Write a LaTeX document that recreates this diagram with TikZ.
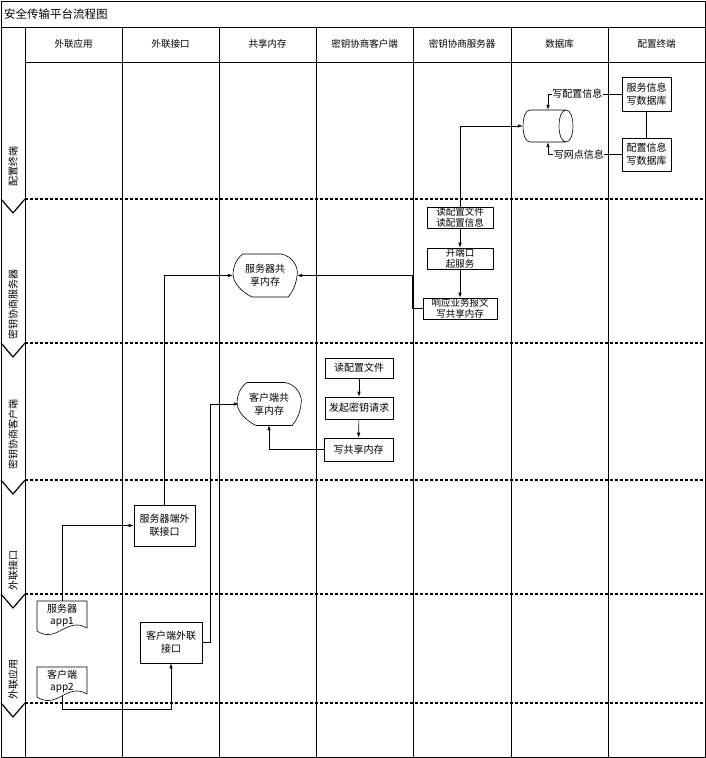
\documentclass[tikz,border=0pt]{standalone}
\usepackage{fontspec}
\setmainfont{Noto Sans CJK SC}
\usetikzlibrary{arrows.meta,calc,positioning}

\tikzset{
  colhead/.style={inner sep=0pt, font=\fontsize{9.5}{11}\selectfont},
  lanehead/.style={rotate=90, anchor=west, inner sep=0pt, font=\fontsize{10}{12}\selectfont},
  lane sep/.style={line width=1.5pt, dash pattern=on 3pt off 2pt},
  proc/.style={draw, line width=0.6pt, align=center, inner sep=1pt, font=\fontsize{10}{13}\selectfont},
  tight proc/.style={proc, inner sep=0pt, font=\fontsize{9.5}{10.5}\selectfont},
  store/.style={align=center, inner sep=0pt, font=\fontsize{10}{13}\selectfont},
  flow/.style={line width=0.6pt, -{Latex[length=5pt,width=3.5pt]}},
  flow label/.style={fill=white, inner sep=0.5pt, font=\fontsize{10}{12}\selectfont},
  shmem/.pic={\draw[line width=0.6pt] (-22,-21.5) -- (16,-21.5) .. controls (28,-19.5) and (34,-7.5) .. (32,0.5)
      .. controls (31,10.5) and (26,18.5) .. (23,21.5) -- (-13,21.5) .. controls (-23,16.5) and (-31,8.5) .. (-32,-0.5)
      .. controls (-32,-9.5) and (-28,-17.5) .. (-22,-21.5) -- cycle;},
  docpage/.pic={\draw[line width=0.6pt] (-25,-14.5) -- (25,-14.5) -- (25,12.5)
      .. controls (5,0.5) and (-5,28.5) .. (-25,15.5) -- cycle;},
}

\begin{document}
\begin{tikzpicture}[x=1pt, y=-1pt, line join=round]
\useasboundingbox (0,0) rectangle (706,758);
% frame, title and column heads
\draw[line width=1pt] (1,1) rectangle (705,757);
\draw[line width=1pt] (1,27) -- (705,27);
\node[anchor=west, inner sep=0pt, font=\fontsize{11.5}{13}\selectfont] (title) at (4,14) {安全传输平台流程图};
\draw[line width=1pt] (25,62) -- (705,62);
\foreach \x in {25,122,219,316,413,511,608}
  \draw[line width=0.6pt] (\x,27) -- (\x,757);
\foreach \x/\t [count=\i] in {73.5/外联应用, 170.5/外联接口, 267.5/共享内存, 364.5/密钥协商客户端,
    462/密钥协商服务器, 559.5/数据库, 656.5/配置终端}
  \node[colhead] (col\i) at (\x,44) {\t};
% lanes
\foreach \y in {199,343,480,594,703}{
  \draw[lane sep] (25,\y) -- (705,\y);
  \draw[line width=1.2pt] (1,\y) -- (13,\y+14) -- (25,\y);
}
\node[lanehead] (lane1) at (13,187) {配置终端};
\node[lanehead] (lane2) at (13,340) {密钥协商服务器};
\node[lanehead] (lane3) at (13,470) {密钥协商客户端};
\node[lanehead] (lane4) at (13,591) {外联接口};
\node[lanehead] (lane5) at (13,700) {外联应用};

% configuration terminal / database
\node[minimum width=50pt, minimum height=32pt, inner sep=0pt] (db) at (548,126) {};
\draw[line width=0.6pt] (530,110) -- (566,110) .. controls (575.3,110) and (575.3,142) .. (566,142) -- (530,142)
  .. controls (520.7,142) and (520.7,110) .. (530,110)
  (566,110) .. controls (556.7,110) and (556.7,142) .. (566,142);
\node[proc, minimum width=49pt, minimum height=34pt] (svcw) at (646.5,94) {服务信息\\写数据库};
\node[proc, minimum width=49pt, minimum height=33pt] (cfgw) at (646.5,154.5) {配置信息\\写数据库};
\draw[line width=0.6pt] (svcw) -- (cfgw);
\draw[flow] (svcw.west) -| node[flow label, pos=0.3] {写配置信息} (db.north);
\draw[flow] (cfgw.west) -| node[flow label, pos=0.29] {写网点信息} (db.south);

% key server
\node[tight proc, minimum width=66pt, minimum height=21pt] (rdcfg) at (460,217.5) {读配置文件\\读配置信息};
\node[tight proc, minimum width=66pt, minimum height=21pt] (port) at (460,258.5) {开端口\\起服务};
\node[tight proc, minimum width=74pt, minimum height=21pt] (resp) at (460,308.5) {响应业务报文\\写共享内存};
\draw[flow] (rdcfg) -- (port);
\draw[flow] (port) -- (resp);
\draw[flow] (rdcfg.north) |- (db.west);
\node[store, minimum width=64pt, minimum height=43pt] (smem) at (265,275.5) {服务器共\\享内存};
\path (smem) pic {shmem};
\draw[flow] (resp.west) -- ++(-10,0) |- (smem.east);

% key client
\node[proc, minimum width=68pt, minimum height=20pt] (cfile) at (359,368) {读配置文件};
\node[proc, minimum width=68pt, minimum height=22pt] (keyreq) at (359,408) {发起密钥请求};
\node[proc, minimum width=69pt, minimum height=23pt] (wmem) at (358.5,449.5) {写共享内存};
\draw[flow] (cfile) -- (keyreq);
\draw[flow] (keyreq) -- (wmem);
\node[store, minimum width=60pt, minimum height=42pt] (cmem) at (269,404) {客户端共\\享内存};
\path[xscale=0.94] (cmem) pic {shmem};
\draw[flow] (wmem.west) -| (cmem.south);

% external interface and applications
\node[proc, minimum width=61pt, minimum height=41pt] (sif) at (164.5,525.5) {服务器端外\\联接口};
\node[proc, minimum width=62pt, minimum height=41pt] (cif) at (171,642.5) {客户端外联\\接口};
\node[store, minimum width=50pt, minimum height=29pt, font=\fontsize{10}{12}\selectfont] (app1) at (62,615.5) {服务器\\app1};
\path (app1) pic {docpage};
\node[store, minimum width=50pt, minimum height=29pt, font=\fontsize{10}{12}\selectfont] (app2) at (62,681.5) {客户端\\app2};
\path (app2) pic {docpage};
\draw[flow] (sif.north) |- (smem.west);
\draw[flow] (cif.east) -- ++(8,0) |- (cmem.west);
\draw[flow] (app1.north) |- (sif.west);
\draw[flow] (app2.south) -- ++(0,13) -| (cif.south);
\end{tikzpicture}
\end{document}
